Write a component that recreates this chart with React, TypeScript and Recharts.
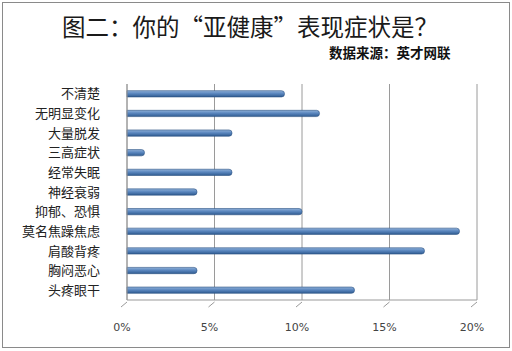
import React from "react"
import { BarChart, Bar, XAxis, YAxis, CartesianGrid } from "recharts"

const categories = [
  "不清楚",
  "无明显变化",
  "大量脱发",
  "三高症状",
  "经常失眠",
  "神经衰弱",
  "抑郁、恐惧",
  "莫名焦躁焦虑",
  "肩酸背疼",
  "胸闷恶心",
  "头疼眼干",
]
const shares = [9, 11, 6, 1, 6, 4, 10, 19, 17, 4, 13]
const xTicks = [0, 5, 10, 15, 20]

const data = categories.map((name, i) => ({ name, value: shares[i] }))

const cjk = '"Noto Sans CJK SC", "Noto Sans", sans-serif'

function PercentTick(props: any) {
  const { x, y, payload } = props
  return (
    <g>
      <line x1={x} y1={y} x2={x - 6} y2={y + 5} stroke="#999" />
      <text
        x={x - 5}
        y={y + 29}
        textAnchor="middle"
        fontSize={11}
        fill="#444"
        fontFamily='"DejaVu Sans", sans-serif'
      >
        {payload.value}%
      </text>
    </g>
  )
}

export default function App() {
  return (
    <div style={{ position: "absolute", left: 0, top: 0, width: 512, height: 351, background: "#fff" }}>
      <div
        style={{
          position: "absolute",
          left: 2,
          top: 2,
          width: 508,
          height: 346,
          border: "1px solid #8a8a8a",
          boxSizing: "border-box",
        }}
      />
      <div
        style={{
          position: "absolute",
          left: 0,
          width: 500,
          top: 11,
          textAlign: "center",
          fontFamily: cjk,
          fontSize: 23.5,
          lineHeight: "30px",
          color: "#1a1a1a",
        }}
      >
        图二：你的“亚健康”表现症状是？
      </div>
      <div
        style={{
          position: "absolute",
          left: 329,
          top: 43,
          fontFamily: cjk,
          fontSize: 13.5,
          fontWeight: 700,
          lineHeight: "18px",
          color: "#111",
        }}
      >
        数据来源：英才网联
      </div>
      <div style={{ position: "absolute", left: 0, top: 0 }}>
        <BarChart
          width={512}
          height={351}
          layout="vertical"
          data={data}
          margin={{ top: 84, right: 35, bottom: 21, left: 0 }}
          barCategoryGap="66%"
        >
          <defs>
            <linearGradient id="barFill" x1="0" y1="0" x2="0" y2="1">
              <stop offset="0%" stopColor="#8fb0d8" />
              <stop offset="45%" stopColor="#5b87bf" />
              <stop offset="100%" stopColor="#2f5b90" />
            </linearGradient>
          </defs>
          <CartesianGrid horizontal={false} stroke="#9a9a9a" />
          <XAxis
            type="number"
            domain={[0, 20]}
            ticks={xTicks}
            tick={<PercentTick />}
            tickLine={false}
            tickSize={0}
            axisLine={{ stroke: "#9a9a9a" }}
            height={30}
          />
          <YAxis
            type="category"
            dataKey="name"
            width={127}
            tickLine={false}
            tickSize={0}
            tickMargin={27}
            axisLine={{ stroke: "#9a9a9a" }}
            tick={{ fontSize: 13, fill: "#222", fontFamily: cjk }}
            interval={0}
          />
          <Bar
            dataKey="value"
            fill="url(#barFill)"
            stroke="#2b5283"
            strokeWidth={0.6}
            radius={[0, 3, 3, 0]}
            isAnimationActive={false}
          />
        </BarChart>
      </div>
    </div>
  )
}
